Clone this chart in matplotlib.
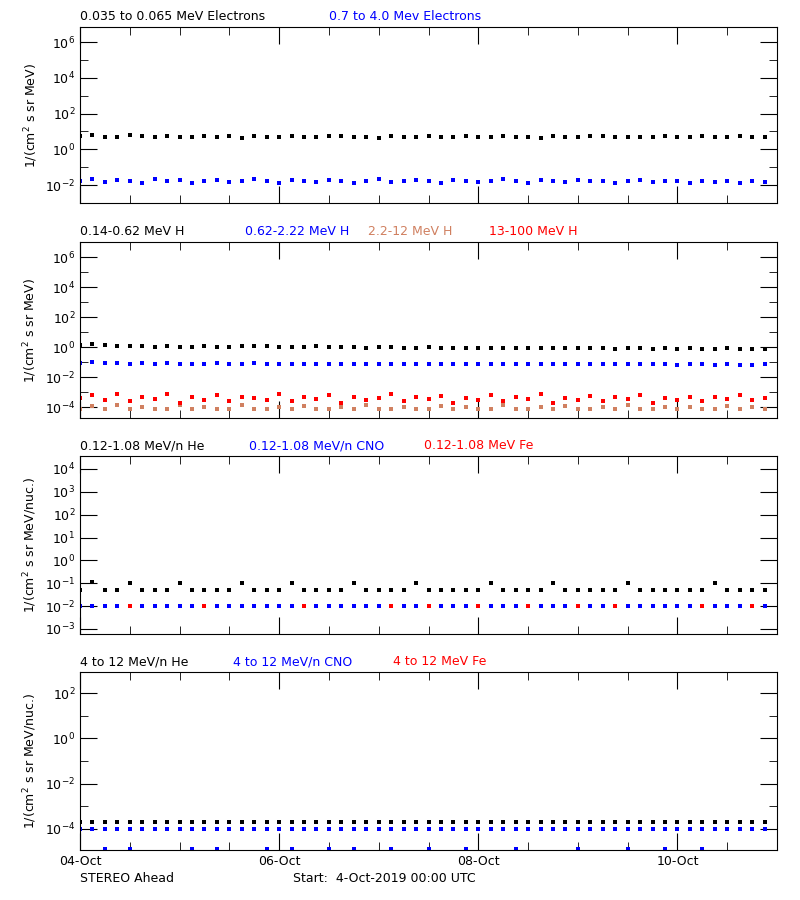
import matplotlib
matplotlib.use("Agg")
import matplotlib.pyplot as plt
import matplotlib.dates as mdates
import numpy as np
from datetime import datetime, timedelta

start = datetime(2019, 10, 4)
# sample times (hours from start), every 3 hours over 7 days
hours = list(range(0, 168, 3))
times = [start + timedelta(hours=h) for h in hours]
tick_days = [0, 2, 4, 6]
tick_labels = ['04-Oct', '06-Oct', '08-Oct', '10-Oct']

e_low = [5.5,6.2,4.8,5.1,6.0,5.3,4.9,5.6,5.2,4.7,5.8,5.0,5.4,4.6,5.9,5.1,4.8,5.5,5.0,4.7,5.3,5.6,4.9,5.2,
         4.6,5.4,5.1,4.8,5.7,5.0,4.9,5.3,4.7,5.2,5.5,4.8,5.1,4.6,5.4,5.0,4.9,5.3,5.6,4.8,5.1,5.0,4.7,5.5,
         5.2,4.9,5.4,5.0,4.8,5.3,4.7,5.1]
e_high = [0.018,0.022,0.015,0.020,0.017,0.014,0.021,0.016,0.019,0.013,0.018,0.020,0.015,0.017,0.022,0.016,
          0.014,0.019,0.017,0.015,0.020,0.016,0.013,0.018,0.021,0.015,0.017,0.019,0.016,0.014,0.020,0.017,
          0.015,0.018,0.022,0.016,0.014,0.019,0.017,0.015,0.020,0.016,0.018,0.014,0.017,0.019,0.015,0.016,
          0.018,0.013,0.017,0.015,0.016,0.014,0.017,0.015]
h1 = [1.3,1.5,1.4,1.2,1.1,1.1,1.0,1.1,1.0,1.0,1.1,1.0,1.0,1.1,1.2,1.1,1.0,1.0,1.0,1.1,1.0,0.95,1.0,0.9,
      0.95,1.0,0.9,0.9,0.95,0.9,0.9,0.85,0.9,0.9,0.85,0.9,0.85,0.9,0.85,0.85,0.9,0.85,0.85,0.8,0.85,0.85,
      0.8,0.85,0.8,0.85,0.8,0.8,0.85,0.8,0.8,0.8]
h2 = [0.09,0.10,0.09,0.085,0.08,0.085,0.08,0.082,0.08,0.078,0.08,0.082,0.079,0.08,0.085,0.08,0.078,0.08,
      0.077,0.08,0.078,0.076,0.08,0.075,0.077,0.076,0.074,0.076,0.075,0.073,0.075,0.074,0.072,0.075,0.073,
      0.072,0.074,0.072,0.071,0.073,0.072,0.07,0.072,0.071,0.07,0.072,0.07,0.071,0.069,0.07,0.071,0.068,
      0.07,0.069,0.068,0.07]
h3 = [8e-5,1.2e-4,8e-5,1.5e-4,8e-5,1.1e-4,8e-5,8e-5,1.3e-4,8e-5,1.0e-4,8e-5,8e-5,1.4e-4,8e-5,8e-5,1.1e-4,
      8e-5,1.2e-4,8e-5,8e-5,1.0e-4,8e-5,1.3e-4,8e-5,8e-5,1.1e-4,8e-5,8e-5,1.2e-4,8e-5,1.0e-4,8e-5,8e-5,
      1.4e-4,8e-5,8e-5,1.1e-4,8e-5,1.2e-4,8e-5,8e-5,1.0e-4,8e-5,1.3e-4,8e-5,8e-5,1.1e-4,8e-5,1.0e-4,8e-5,
      8e-5,1.2e-4,8e-5,1.1e-4,8e-5]
h4 = [4e-4,6e-4,3e-4,8e-4,2.5e-4,5e-4,3.5e-4,7e-4,2e-4,4.5e-4,3e-4,6e-4,2.5e-4,5e-4,4e-4,3e-4,7e-4,2.5e-4,
      4.5e-4,3.5e-4,6e-4,2e-4,5e-4,3e-4,4e-4,7e-4,2.5e-4,4.5e-4,3.5e-4,5.5e-4,2e-4,4e-4,3e-4,6e-4,2.5e-4,
      5e-4,3.5e-4,7e-4,2e-4,4e-4,3e-4,5.5e-4,2.5e-4,4.5e-4,3.5e-4,6e-4,2e-4,4e-4,3e-4,5e-4,2.5e-4,4.5e-4,
      3.5e-4,6e-4,3e-4,4e-4]
he_lo = [0.05,0.11,0.05,0.05,0.10,0.05,0.05,0.05,0.10,0.05,0.05,0.05,0.05,0.10,0.05,0.05,0.05,0.10,0.05,
         0.05,0.05,0.05,0.10,0.05,0.05,0.05,0.05,0.10,0.05,0.05,0.05,0.05,0.05,0.10,0.05,0.05,0.05,0.05,
         0.10,0.05,0.05,0.05,0.05,0.05,0.10,0.05,0.05,0.05,0.05,0.05,0.05,0.10,0.05,0.05,0.05,0.05]
cno_lo = [0.01]*56
fe_lo_t = [12, 30, 54, 75, 84, 96, 108, 120, 129, 150, 162]
fe_lo = [0.01]*len(fe_lo_t)
he_hi = [2e-4]*56
cno_hi = [1e-4]*56
cno_hi2_t = [6, 12, 27, 33, 45, 51, 60, 66, 75, 84, 93, 105, 120, 132, 141, 150]
cno_hi2 = [1.3e-5]*len(cno_hi2_t)

plt.rcParams['font.family'] = 'DejaVu Sans'
fig = plt.figure(figsize=(8, 9), dpi=100)
W, H = 800, 900
panels = [(27, 203), (242, 418), (456, 634), (672, 850)]
axes = []
for (t, b) in panels:
    ax = fig.add_axes([80/W, 1-b/H, 697/W, (b-t)/H])
    axes.append(ax)

ms = 2.4
def pts(ax, x, y, c):
    ax.plot(x, y, 's', color=c, ms=ms, mew=0, ls='none')

a = axes[0]
pts(a, times, e_low, 'black'); pts(a, times, e_high, 'blue')
a.set_ylim(1e-3, 7e6)
a = axes[1]
pts(a, times, h1, 'black'); pts(a, times, h2, 'blue')
pts(a, times, h3, '#d08060'); pts(a, times, h4, 'red')
a.set_ylim(1.9e-5, 1e7)
a = axes[2]
pts(a, times, he_lo, 'black'); pts(a, times, cno_lo, 'blue')
pts(a, [start+timedelta(hours=h) for h in fe_lo_t], fe_lo, 'red')
a.set_ylim(6e-4, 3.7e4)
a = axes[3]
pts(a, times, he_hi, 'black'); pts(a, times, cno_hi, 'blue')
pts(a, [start+timedelta(hours=h) for h in cno_hi2_t], cno_hi2, 'blue')
a.set_ylim(1.17e-5, 8.5e2)

ylabels = ['1/(cm$^2$ s sr MeV)']*2 + ['1/(cm$^2$ s sr MeV/nuc.)']*2
major = [[1e-2,1,1e2,1e4,1e6],[1e-4,1e-2,1,1e2,1e4,1e6],
         [1e-3,1e-2,1e-1,1,1e1,1e2,1e3,1e4],[1e-4,1e-2,1,1e2]]
minor = [[1e-1,1e1,1e3,1e5],[1e-3,1e-1,1e1,1e3,1e5],[],[1e-3,1e-1,1e1]]
for i, a in enumerate(axes):
    a.set_yscale('log')
    a.set_xlim(start, start+timedelta(days=7))
    a.set_yticks(major[i])
    a.set_yticks(minor[i], minor=True)
    a.yaxis.set_minor_formatter(matplotlib.ticker.NullFormatter())
    a.set_xticks([start+timedelta(days=d) for d in tick_days])
    a.set_xticks([start+timedelta(hours=12*k) for k in range(15)], minor=True)
    a.tick_params(which='both', direction='in', top=True, right=True, labelsize=9)
    a.tick_params(which='major', length=12)
    a.tick_params(which='minor', length=6)
    a.set_ylabel(ylabels[i], fontsize=9)
    if i < 3:
        a.set_xticklabels([])
    else:
        a.set_xticklabels(tick_labels)
    for s in a.spines.values():
        s.set_linewidth(0.8)

def titles(ax, items):
    for x, s, c in items:
        ax.text(x/697, 1.02, s, color=c, fontsize=9, transform=ax.transAxes, va='bottom')

titles(axes[0], [(0, '0.035 to 0.065 MeV Electrons', 'black'), (249, '0.7 to 4.0 Mev Electrons', 'blue')])
titles(axes[1], [(0, '0.14-0.62 MeV H', 'black'), (165, '0.62-2.22 MeV H', 'blue'),
                 (288, '2.2-12 MeV H', '#d08060'), (409, '13-100 MeV H', 'red')])
titles(axes[2], [(0, '0.12-1.08 MeV/n He', 'black'), (169, '0.12-1.08 MeV/n CNO', 'blue'),
                 (344, '0.12-1.08 MeV Fe', 'red')])
titles(axes[3], [(0, '4 to 12 MeV/n He', 'black'), (153, '4 to 12 MeV/n CNO', 'blue'),
                 (313, '4 to 12 MeV Fe', 'red')])

fig.text(80/W, 1-882/H, 'STEREO Ahead', fontsize=9)
fig.text(293/W, 1-882/H, 'Start:  4-Oct-2019 00:00 UTC', fontsize=9)
fig.savefig('out.png', dpi=100)
